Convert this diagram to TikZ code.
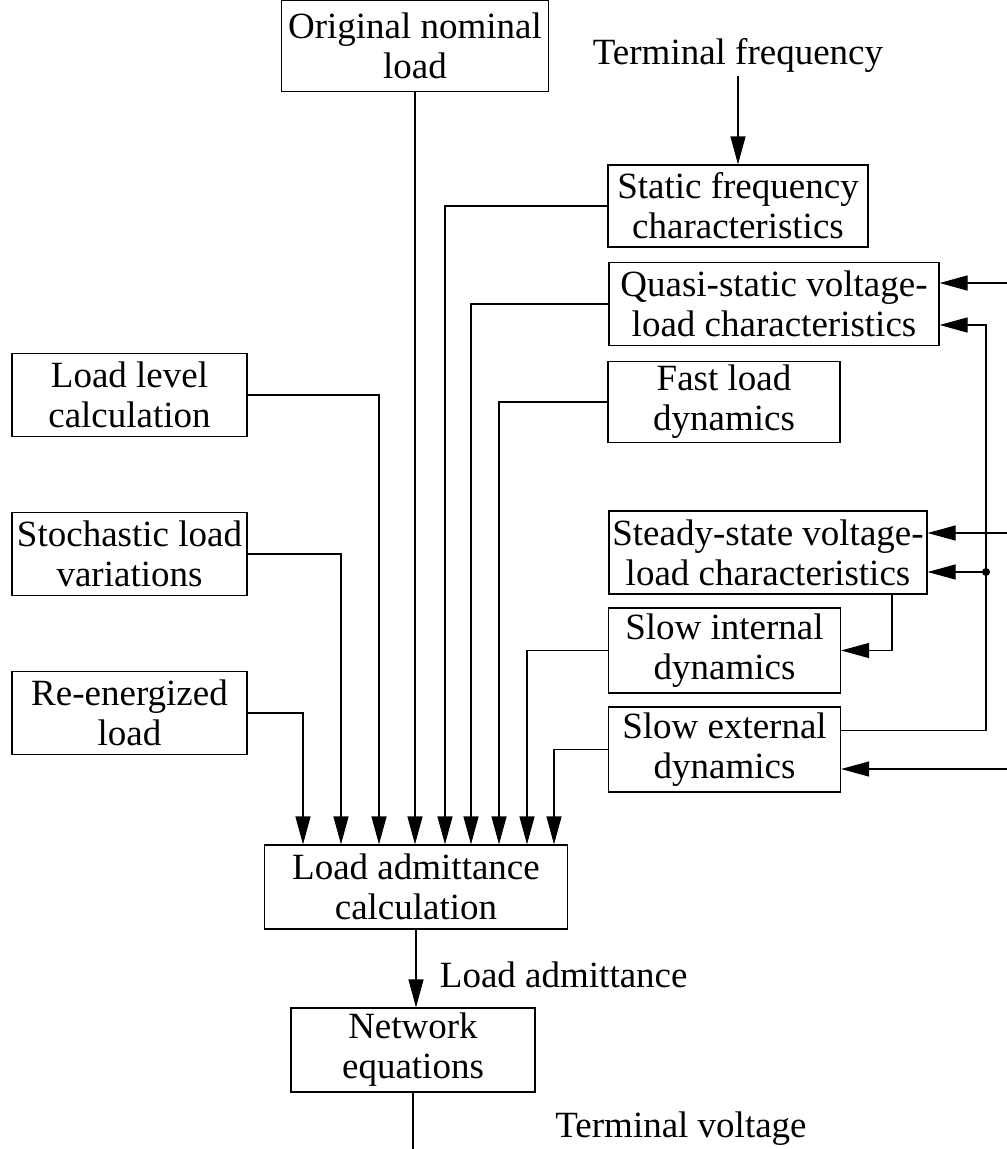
\documentclass[tikz,border=0pt]{standalone}
\usepackage{fontspec}
\setmainfont{Liberation Serif}
\usetikzlibrary{arrows.meta,positioning}

\begin{document}
\begin{tikzpicture}[x=1pt,y=-1pt,line width=1.2pt,>={Triangle[length=28pt,width=15pt]}]
  \tikzstyle{every node} = [font=\fontsize{37}{40}\selectfont]
  \tikzstyle{block} = [draw,line width=1.2pt,rectangle,align=center,inner sep=0pt,minimum height=83pt]
  \useasboundingbox (0,0) rectangle (1007,1149);

  % left column
  \node [block,minimum width=267pt,minimum height=91pt] (orig) at (415,46) {Original nominal\\load};
  \node [block,minimum width=235pt] (level) at (129.5,395) {Load level\\calculation};
  \node [block,minimum width=235pt] (stoch) at (129.5,554) {Stochastic load\\variations};
  \node [block,minimum width=235pt] (reen) at (129.5,713) {Re-energized\\load};

  % right column
  \node (tf) at (738,55) {Terminal frequency};
  \node [block,minimum width=260pt,minimum height=82pt] (stat) at (738,206) {Static frequency\\characteristics};
  \node [block,minimum width=330pt] (quasi) at (774,304) {Quasi-static voltage-\\load characteristics};
  \node [block,minimum width=232pt,minimum height=81pt] (fast) at (724,402) {Fast load\\dynamics};
  \node [block,minimum width=318pt] (steady) at (768,552.5) {Steady-state voltage-\\load characteristics};
  \node [block,minimum width=232pt,minimum height=85pt] (slowint) at (724.5,650.5) {Slow internal\\dynamics};
  \node [block,minimum width=232pt,minimum height=85pt] (slowext) at (724.5,749.5) {Slow external\\dynamics};

  % bottom
  \node [block,minimum width=303pt,minimum height=84pt] (adm) at (416,887) {Load admittance\\calculation};
  \node [block,minimum width=244pt,minimum height=84pt] (net) at (413,1050) {Network\\equations};
  \node [anchor=west] (la) at (436,975) {Load admittance};
  \node (tv) at (681,1129) {Terminal voltage};
  \coordinate (out) at (413,1149);
  \coordinate (bus) at (986,0);
  \coordinate (edge) at (1007,0);

  % ports on the right
  \coordinate (q1) at ([yshift=21pt]quasi.east);
  \coordinate (q2) at ([yshift=-21pt]quasi.east);
  \coordinate (s1) at ([yshift=19.5pt]steady.east);
  \coordinate (s2) at ([yshift=-19.5pt]steady.east);
  \coordinate (e1) at ([yshift=19pt]slowext.east);
  \coordinate (e2) at ([yshift=-19.5pt]slowext.east);

  % inputs to the admittance calculation
  \draw [->] (reen.east) -| ([xshift=-113pt]adm.north);
  \draw [->] (stoch.east) -| ([xshift=-75pt]adm.north);
  \draw [->] (level.east) -| ([xshift=-37pt]adm.north);
  \draw [->] (orig.south) -- (orig.south |- adm.north);
  \draw [->] (stat.west) -| ([xshift=29pt]adm.north);
  \draw [->] (quasi.west) -| ([xshift=55pt]adm.north);
  \draw [->] (fast.west) -| ([xshift=83pt]adm.north);
  \draw [->] (slowint.west) -| ([xshift=111pt]adm.north);
  \draw [->] (slowext.west) -| ([xshift=138pt]adm.north);

  \draw [->] (tf.south) -- (stat.north);
  \draw [->] (adm.south) -- (adm.south |- net.north);
  \draw (net.south) -- (out);

  % voltage feedback on the right
  \draw [->] (edge |- q1) -- (q1);
  \draw [->] (e1) -| (bus |- q2) -- (q2);
  \draw [->] (edge |- s1) -- (s1);
  \draw [->] (bus |- s2) -- (s2);
  \fill (bus |- s2) circle (4pt);
  \draw [->] ([xshift=124pt]steady.south) |- (slowint.east);
  \draw [->] (edge |- e2) -- (e2);

\end{tikzpicture}
\end{document}
